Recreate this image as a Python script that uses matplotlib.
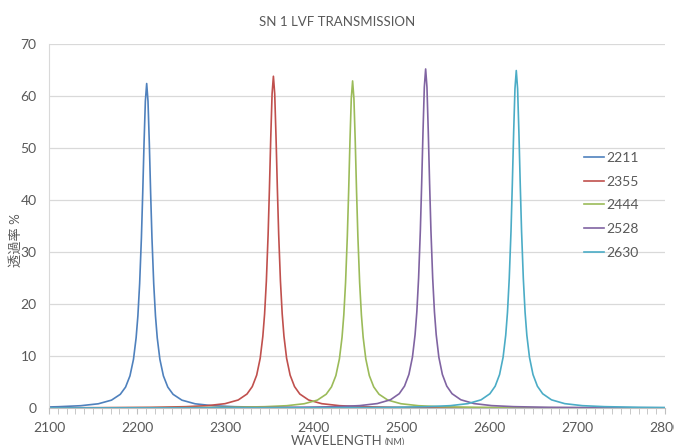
import matplotlib
matplotlib.use("Agg")
import matplotlib.pyplot as plt
from matplotlib.ticker import MultipleLocator

# values (wavelength nm, transmission %)
wl_2211 = [2100, 2111, 2136, 2156, 2171, 2181, 2187, 2192, 2196, 2199, 2201, 2203, 2205, 2206.5,
           2208, 2209.5, 2211, 2212.5, 2214, 2215.5, 2217, 2219, 2221, 2223, 2226, 2230, 2235,
           2241, 2251, 2266, 2286, 2311, 2351, 2411, 2511, 2800]
t_2211 = [0.20, 0.25, 0.44, 0.81, 1.51, 2.63, 4.02, 6.18, 9.36, 13.5, 17.7, 23.9, 32.7, 41.3,
          50.9, 59.0, 62.4, 59.0, 50.9, 41.3, 32.7, 23.9, 17.7, 13.5, 9.36, 6.18, 4.02,
          2.63, 1.51, 0.81, 0.44, 0.25, 0.13, 0.06, 0.03, 0.01]

wl_2355 = [2100, 2155, 2215, 2255, 2280, 2300, 2315, 2325, 2331, 2336, 2340, 2343, 2345, 2347,
           2349, 2350.5, 2352, 2353.5, 2355, 2356.5, 2358, 2359.5, 2361, 2363, 2365, 2367, 2370,
           2374, 2379, 2385, 2395, 2410, 2430, 2455, 2495, 2555, 2655, 2800]
t_2355 = [0.04, 0.06, 0.13, 0.25, 0.45, 0.83, 1.54, 2.69, 4.12, 6.32, 9.57, 13.8, 18.1, 24.4,
          33.4, 42.2, 52.0, 60.4, 63.8, 60.4, 52.0, 42.2, 33.4, 24.4, 18.1, 13.8, 9.57,
          6.32, 4.12, 2.69, 1.54, 0.83, 0.45, 0.25, 0.13, 0.06, 0.03, 0.01]

wl_2444 = [2100, 2245, 2305, 2345, 2370, 2390, 2405, 2415, 2421, 2426, 2430, 2433, 2435, 2437,
           2439, 2440.5, 2442, 2443.5, 2445, 2446.5, 2448, 2449.5, 2451, 2453, 2455, 2457, 2460,
           2464, 2469, 2475, 2485, 2500, 2520, 2545, 2585, 2645, 2745, 2800]
t_2444 = [0.02, 0.06, 0.13, 0.25, 0.44, 0.82, 1.52, 2.65, 4.06, 6.23, 9.44, 13.6, 17.9, 24.1,
          33.0, 41.6, 51.3, 59.5, 62.9, 59.5, 51.3, 41.6, 33.0, 24.1, 17.9, 13.6, 9.44,
          6.23, 4.06, 2.65, 1.52, 0.82, 0.44, 0.25, 0.13, 0.06, 0.03, 0.02]

wl_2528 = [2100, 2228, 2328, 2388, 2428, 2453, 2473, 2488, 2498, 2504, 2509, 2513, 2516, 2518,
           2520, 2522, 2523.5, 2525, 2526.5, 2528, 2529.5, 2531, 2532.5, 2534, 2536, 2538, 2540,
           2543, 2547, 2552, 2558, 2568, 2583, 2603, 2628, 2668, 2728, 2800]
t_2528 = [0.01, 0.03, 0.07, 0.13, 0.26, 0.46, 0.85, 1.58, 2.75, 4.21, 6.46, 9.78, 14.1, 18.5,
          25.0, 34.2, 43.2, 53.1, 61.7, 65.2, 61.7, 53.1, 43.2, 34.2, 25.0, 18.5, 14.1,
          9.78, 6.46, 4.21, 2.75, 1.58, 0.85, 0.46, 0.26, 0.13, 0.07, 0.04]

wl_2630 = [2100, 2331, 2431, 2491, 2531, 2556, 2576, 2591, 2601, 2607, 2612, 2616, 2619, 2621,
           2623, 2625, 2626.5, 2628, 2629.5, 2631, 2632.5, 2634, 2635.5, 2637, 2639, 2641, 2643,
           2646, 2650, 2655, 2661, 2671, 2686, 2706, 2731, 2771, 2800]
t_2630 = [0.01, 0.03, 0.06, 0.13, 0.26, 0.45, 0.84, 1.57, 2.74, 4.19, 6.43, 9.74, 14.0, 18.4,
          24.9, 34.0, 43.0, 52.9, 61.4, 64.9, 61.4, 52.9, 43.0, 34.0, 24.9, 18.4, 14.0,
          9.74, 6.43, 4.19, 2.74, 1.57, 0.84, 0.45, 0.26, 0.13, 0.09]

series = [("2211", wl_2211, t_2211, "#4F81BD"),
          ("2355", wl_2355, t_2355, "#C0504D"),
          ("2444", wl_2444, t_2444, "#9BBB59"),
          ("2528", wl_2528, t_2528, "#8064A2"),
          ("2630", wl_2630, t_2630, "#4BACC6")]

plt.rcParams['font.family'] = ['Lato', 'Noto Sans CJK JP', 'DejaVu Sans']
txt = "#595959"

fig = plt.figure(figsize=(6.74, 4.45), dpi=100)
ax = fig.add_axes([49 / 674, 1 - 408 / 445, 616 / 674, 364 / 445])

for name, x, y, c in series:
    ax.plot(x, y, color=c, lw=1.2, label=name, solid_joinstyle="round")

ax.set_xlim(2100, 2800)
ax.set_ylim(0, 70)
ax.xaxis.set_major_locator(MultipleLocator(100))
ax.xaxis.set_minor_locator(MultipleLocator(10))
ax.yaxis.set_major_locator(MultipleLocator(10))
ax.grid(axis="y", color="#D9D9D9", lw=0.9)
ax.set_axisbelow(True)

for s in ["top", "right"]:
    ax.spines[s].set_visible(False)
ax.spines["left"].set_color("#D9D9D9")
ax.spines["bottom"].set_color("#BFBFBF")

ax.tick_params(axis="x", which="both", direction="out", length=4, color="#BFBFBF",
               labelsize=10, labelcolor=txt, pad=6)
ax.tick_params(axis="y", length=0, labelsize=10, labelcolor=txt, pad=9)

fig.text(0.5, 1 - 22 / 445, "SN 1 LVF TRANSMISSION", ha="center", va="center",
         fontsize=9.5, color=txt)
fig.text(15 / 674, 1 - 240 / 445, "透過率 %", rotation=90, ha="center", va="center",
         fontsize=9.5, color=txt)
fig.text(382 / 674, 1 - 441 / 445, "WAVELENGTH", ha="right", va="center",
         fontsize=9.5, color=txt)
fig.text(385 / 674, 1 - 442 / 445, "(NM)", ha="left", va="center",
         fontsize=6.5, color=txt)

leg = ax.legend(loc="upper left", bbox_to_anchor=(584 / 674, 1 - 152 / 445),
                bbox_transform=fig.transFigure, frameon=False, fontsize=10,
                handlelength=1.45, handletextpad=0.15, labelspacing=0.84, borderpad=0,
                borderaxespad=0)
for t in leg.get_texts():
    t.set_color(txt)

fig.savefig("out.png", dpi=100)
